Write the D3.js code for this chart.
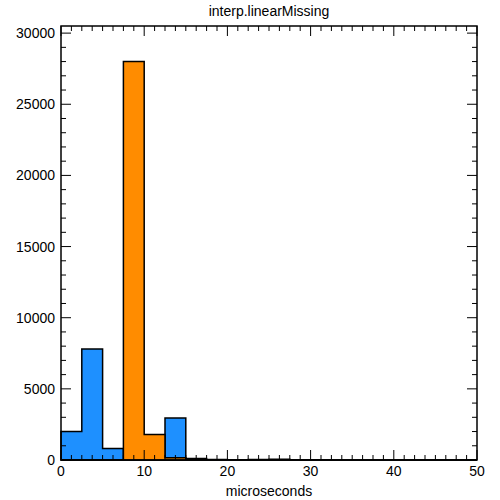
<!DOCTYPE html>
<html><head><meta charset="utf-8">
<script src="https://cdn.jsdelivr.net/npm/d3@7"></script>
<style>body{margin:0;background:#fff}</style>
</head><body>
<script>
// bin edges (microseconds) and counts for both histograms
const binEdges = [0, 2.5, 5, 7.5, 10, 12.5, 15, 17.5, 20, 22.5, 25, 27.5, 30, 32.5, 35, 37.5, 40, 42.5, 45, 47.5, 50];
const blueCounts = [2000, 7800, 800, 0, 0, 2950, 100, 30, 20, 30, 60, 20, 10, 0, 0, 0, 0, 0, 0, 0];
const orangeCounts = [0, 0, 0, 28000, 1800, 150, 20, 0, 0, 0, 0, 0, 0, 0, 0, 0, 0, 0, 0, 0];
const xTicks = [0, 10, 20, 30, 40, 50];
const yTicks = [0, 5000, 10000, 15000, 20000, 25000, 30000];

const width = 500, height = 500;
const marginTop = 26, marginRight = 23, marginBottom = 40, marginLeft = 61;

const svg = d3.select("body").append("svg")
    .attr("width", width).attr("height", height)
    .style("font", "14px 'Liberation Sans', Arial, sans-serif");

const x = d3.scaleLinear().domain([0, 50]).range([marginLeft, width - marginRight]);
const y = d3.scaleLinear().domain([0, 30500]).range([height - marginBottom, marginTop]);

function stepPath(counts) {
    const p = d3.path();
    p.moveTo(x(binEdges[0]), y(0));
    counts.forEach((c, i) => {
        p.lineTo(x(binEdges[i]), y(c));
        p.lineTo(x(binEdges[i + 1]), y(c));
    });
    p.lineTo(x(binEdges[binEdges.length - 1]), y(0));
    p.closePath();
    return p.toString();
}

svg.append("path").attr("d", stepPath(blueCounts))
    .attr("fill", "#1e90ff").attr("stroke", "#000").attr("stroke-width", 1.5);
svg.append("path").attr("d", stepPath(orangeCounts))
    .attr("fill", "#ff8c00").attr("stroke", "#000").attr("stroke-width", 1.5);

// axes, ticks on all four sides pointing inward
const x0 = marginLeft, x1 = width - marginRight, y0 = height - marginBottom, y1 = marginTop;
const g = svg.append("g").attr("stroke", "#000").attr("stroke-width", 1);
g.append("rect").attr("x", x0).attr("y", y1).attr("width", x1 - x0).attr("height", y0 - y1)
    .attr("fill", "none").attr("stroke-width", 1.5);

d3.range(0, 50.01, 1.25).forEach(v => {
    const major = xTicks.includes(v);
    const len = major ? 10 : 5;
    g.append("line").attr("x1", x(v)).attr("x2", x(v)).attr("y1", y0).attr("y2", y0 - len);
    g.append("line").attr("x1", x(v)).attr("x2", x(v)).attr("y1", y1).attr("y2", y1 + len);
});
d3.range(0, 30500, 1000).forEach(v => {
    const major = yTicks.includes(v);
    const len = major ? 10 : 5;
    g.append("line").attr("y1", y(v)).attr("y2", y(v)).attr("x1", x0).attr("x2", x0 + len);
    g.append("line").attr("y1", y(v)).attr("y2", y(v)).attr("x1", x1).attr("x2", x1 - len);
});

svg.selectAll(".xl").data(xTicks).join("text")
    .attr("x", d => x(d)).attr("y", y0 + 16).attr("text-anchor", "middle").text(d => d);
svg.selectAll(".yl").data(yTicks).join("text")
    .attr("x", x0 - 6).attr("y", d => y(d) + 5).attr("text-anchor", "end").text(d => d);

svg.append("text").attr("x", (x0 + x1) / 2).attr("y", 16).attr("text-anchor", "middle").text("interp.linearMissing");
svg.append("text").attr("x", (x0 + x1) / 2).attr("y", 496).attr("text-anchor", "middle").text("microseconds");
</script>
</body></html>
